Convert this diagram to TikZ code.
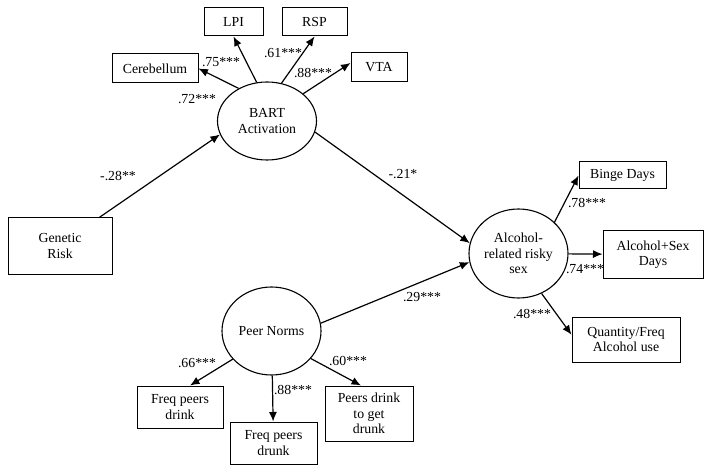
\documentclass[tikz,border=0pt]{standalone}
\usepackage{fontspec}
\setmainfont{Liberation Serif}
\usetikzlibrary{positioning,shapes,arrows.meta}

\begin{document}
\begin{tikzpicture}[x=1pt, y=-1pt, font=\fontsize{13.8}{15.5}\selectfont,
    box/.style={draw, rectangle, align=center, inner sep=0pt, line width=1pt},
    lat/.style={draw, ellipse, align=center, inner sep=0pt, line width=1.1pt},
    load/.style={-{Latex[length=9.5pt,width=8pt]}, line width=1.2pt},
    coef/.style={inner sep=0pt}]
    \useasboundingbox (0,0) rectangle (712,473);
    % latent variables
    \node (bart) [lat, minimum width=99, minimum height=78] at (267,121) {BART\\Activation};
    \node (alc) [lat, minimum width=99, minimum height=89] at (518.5,253.5) {Alcohol-\\related risky\\sex};
    \node (peer) [lat, minimum width=99, minimum height=88] at (271.5,331) {Peer Norms};
    % indicators
    \node (cer) [box, minimum width=86, minimum height=29] at (155,68.5) {Cerebellum};
    \node (lpi) [box, minimum width=59, minimum height=28] at (233.5,22) {LPI};
    \node (rsp) [box, minimum width=65, minimum height=28] at (314.5,22) {RSP};
    \node (vta) [box, minimum width=56, minimum height=29] at (379,67.5) {VTA};
    \node (gen) [box, minimum width=104, minimum height=56] at (60,246) {Genetic\\Risk};
    \node (binge) [box, minimum width=87, minimum height=27] at (622.5,175.5) {Binge Days};
    \node (asex) [box, minimum width=100, minimum height=47] at (653,254.5) {Alcohol+Sex\\Days};
    \node (qty) [box, minimum width=108, minimum height=45] at (626,339.5) {Quantity/Freq\\Alcohol use};
    \node (fpd) [box, minimum width=86, minimum height=42] at (180,407) {Freq peers\\drink};
    \node (fpk) [box, minimum width=87, minimum height=42] at (273.5,443) {Freq peers\\drunk};
    \node (pdg) [box, minimum width=88, minimum height=55] at (369,413.5) {Peers drink\\to get\\drunk};
    % paths
    \draw[load] (gen.36) -- (bart.196);
    \draw[load] (bart.-13) -- (alc.168);
    \draw[load] (peer.9) -- (alc.190);
    \draw[load] (bart.131) -- (cer.east);
    \draw[load] (bart.105) -- (lpi.south);
    \draw[load] (bart.69) -- (rsp.south);
    \draw[load] (bart.37) -- (vta.171);
    \draw[load] (alc.41) -- (binge.west);
    \draw[load] (alc) -- (asex);
    \draw[load] (alc.-60) -- (qty.175);
    \draw[load] (peer.216) -- (fpd.65);
    \draw[load] (peer) -- (fpk);
    \draw[load] (peer.-35) -- (pdg.106);
    % coefficients
    \node (c1) [coef] at (221,62) {.75***};
    \node (c2) [coef] at (197,99) {.72***};
    \node (c3) [coef] at (283,53) {.61***};
    \node (c4) [coef] at (313,73) {.88***};
    \node (c5) [coef] at (118,176) {-.28**};
    \node (c6) [coef] at (403,174) {-.21*};
    \node (c7) [coef] at (422,297) {.29***};
    \node (c8) [coef] at (587,203) {.78***};
    \node (c9) [coef] at (585,269) {.74***};
    \node (c10) [coef] at (532,314) {.48***};
    \node (c11) [coef] at (197,363) {.66***};
    \node (c12) [coef] at (293,390) {.88***};
    \node (c13) [coef] at (348,361) {.60***};
\end{tikzpicture}
\end{document}
